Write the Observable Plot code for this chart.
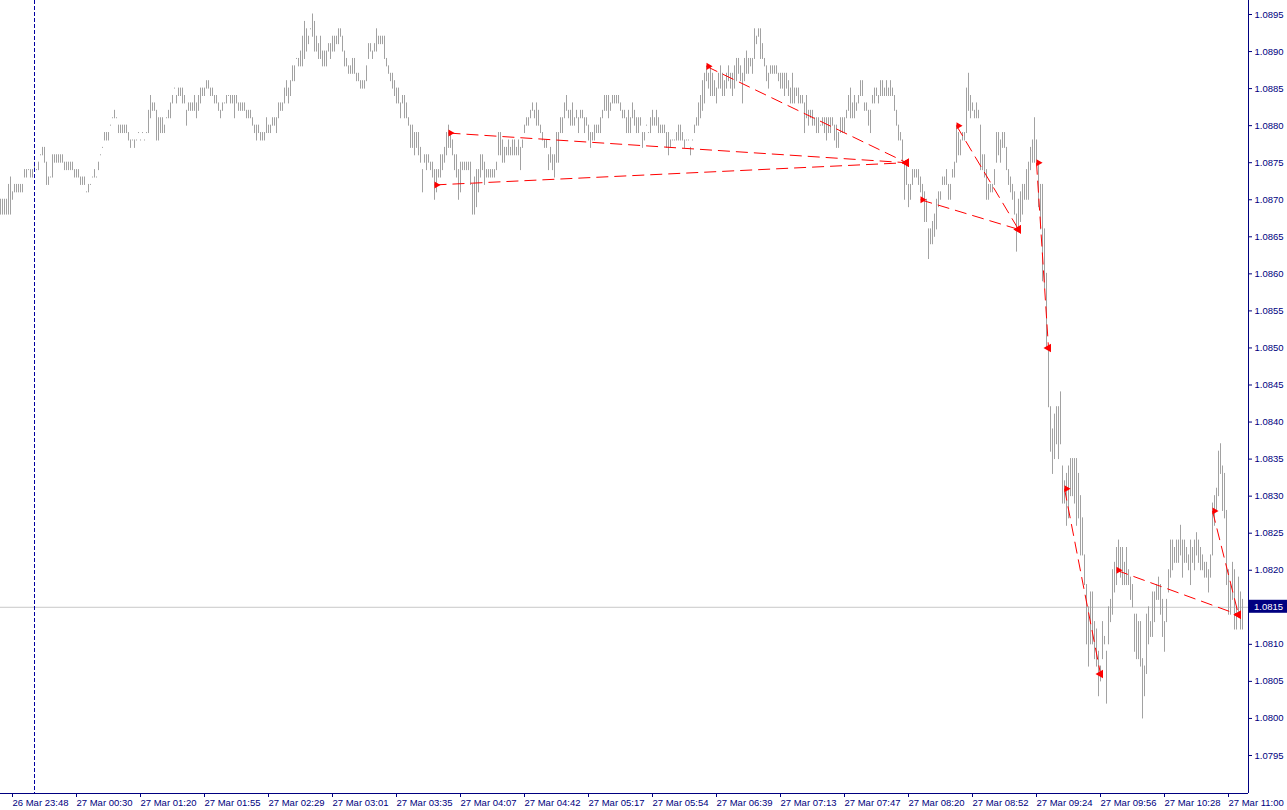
<!DOCTYPE html>
<html><head><meta charset="utf-8">
<script src="https://cdn.jsdelivr.net/npm/d3@7"></script>
<script src="https://cdn.jsdelivr.net/npm/@observablehq/plot@0.6"></script>
<style>html,body{margin:0;padding:0;background:#fff;} #chart svg{display:block}</style>
</head><body><div id="chart"></div>
<script>
// Prices expressed in pips above 1.0800 (1 pip = 0.0001)
const basePrice = 1.0800;
const pipSize = 0.0001;
const barLowPips = [
68,68,68,68,68,68,70,71,71,71, 71,71,73,73,74,73,73,74,74,74,
76,76,75,72,72,73,73,75,75,75, 75,75,74,74,74,74,74,73,73,73,
72,72,72,71,71,72,73,73,73,74, 76,77,78,78,78,80,81,81,81,79,
79,79,79,79,78,77,78,77,78,79, 78,79,78,79,79,81,82,82,78,78,
79,79,79,81,81,81,83,85,83,84, 84,83,83,80,82,82,82,82,81,82,
83,84,84,85,85,84,84,83,83,82, 81,82,83,83,84,83,83,81,83,82,
82,82,82,81,81,81,80,79,78,79, 78,78,78,79,79,79,80,80,79,81,
82,82,83,84,83,84,86,86,89,88, 88,88,89,90,91,93,92,90,90,89,
89,88,88,88,90,89,90,90,91,91, 92,90,88,88,87,87,87,87,86,86,
85,85,85,86,89,90,89,90,90,91, 91,91,89,88,87,86,85,84,83,83,
81,83,81,81,80,77,77,76,77,76, 75,71,75,74,75,74,73,70,71,73,
73,74,75,76,77,77,76,74,73,70, 71,74,74,74,74,72,68,68,69,71,
73,74,72,73,73,73,73,73,74,76, 76,75,75,76,76,76,76,76,76,76,
74,77,79,80,80,81,82,81,80,80, 79,78,77,77,74,75,74,73,75,75,
79,79,81,82,81,80,80,80,81,79, 81,81,79,80,78,77,78,78,79,79,
79,81,82,82,81,82,83,83,83,83, 82,81,81,79,79,79,81,80,79,79,
80,77,78,80,79,79,80,80,80,79, 79,79,79,77,76,77,78,78,78,78,
78,78,77,78,78,76,78,79,80,80, 81,82,83,86,85,84,84,84,83,85,
85,84,84,85,86,85,84,85,86,87, 86,83,86,87,87,88,87,89,91,92,
89,89,88,86,85,87,87,87,87,86, 85,85,84,85,84,83,83,83,84,83,
83,83,79,81,80,81,80,80,79,79, 80,80,79,78,79,79,80,78,77,77,
79,79,79,81,82,81,81,81,82,83, 84,84,82,82,80,79,83,83,84,83,
84,84,84,84,84,84,84,82,80,78, 78,75,70,72,69,70,72,73,73,72,
71,70,67,67,62,64,64,65,66,69, 70,72,72,72,70,70,73,73,75,76,
76,78,78,79,82,81,82,81,81,81, 74,74,73,70,70,71,71,72,75,76,
75,77,77,74,72,71,70,68,63,66, 67,68,70,70,70,74,75,75,75,69,
66,59,58,50,42,36,33,35,37,35, 37,29,29,26,27,30,30,29,26,27,
22,22,18,10,7,10,10,8,7,3, 5,8,10,2,10,13,14,17,18,20,
19,18,18,18,18,16,15,9,8,8, 7,0,3,6,10,11,11,13,16,16,
14,11,9,13,17,19,20,21,21,21, 22,19,21,21,20,18,21,20,22,21,
20,20,19,19,17,19,22,26,28,30, 33,28,27,18,14,14,16,12,12,14,
12,12];
const barHighPips = [
70,70,70,70,72,73,71,72,72,72, 72,72,74,74,74,74,74,75,74,75,
76,77,77,75,73,73,76,76,76,76, 76,76,75,75,75,75,75,74,74,74,
73,73,73,71,72,72,73,74,73,75, 76,77,79,79,79,80,81,82,81,80,
80,80,80,80,79,78,78,78,78,79, 78,79,78,79,82,84,83,83,82,81,
81,81,80,81,82,83,84,85,84,85, 85,85,84,82,83,83,83,84,83,84,
85,85,85,86,86,85,85,84,84,83, 82,83,83,84,84,84,84,84,84,83,
83,83,83,82,82,82,81,80,80,80, 79,79,79,81,80,80,81,81,81,83,
83,83,85,86,85,86,88,88,89,89, 90,92,94,93,92,93,95,94,92,91,
92,90,90,90,91,91,92,92,92,93, 93,92,90,89,88,88,89,89,87,87,
86,86,86,88,91,91,90,91,93,92, 92,92,92,89,88,87,87,86,85,85,
83,84,84,83,81,80,80,79,79,79, 77,74,76,76,76,75,75,74,74,74,
76,76,77,79,80,79,78,76,76,74, 75,75,75,75,75,75,72,73,74,74,
76,76,75,74,74,74,74,74,75,79, 79,78,77,77,78,77,78,78,77,78,
77,78,80,81,81,82,83,82,83,82, 80,79,78,78,76,77,76,76,79,79,
81,81,83,84,82,82,83,81,82,81, 82,82,81,81,80,79,79,80,80,80,
81,82,84,84,84,83,84,84,84,84, 83,82,82,81,82,81,83,82,81,81,
81,79,79,80,79,81,82,81,82,81, 80,80,80,79,79,78,78,78,79,80,
80,79,78,78,78,77,78,80,81,83, 84,86,87,88,87,88,87,86,85,87,
88,87,86,87,88,87,87,88,89,89, 88,87,89,90,89,89,89,93,92,93,
93,91,89,88,87,88,88,88,88,87, 87,87,87,87,86,85,87,85,85,85,
84,84,83,84,82,82,82,81,81,81, 80,81,81,81,81,81,81,80,80,79,
81,81,81,82,84,85,83,84,83,84, 86,86,83,83,82,82,84,85,85,84,
86,86,85,86,85,86,85,84,82,80, 79,78,75,75,72,72,74,74,74,74,
73,72,71,70,66,66,67,68,70,71, 71,73,73,74,72,72,74,75,80,79,
78,79,79,85,87,84,83,82,83,82, 80,76,76,74,72,72,72,74,79,79,
78,79,79,77,74,73,72,71,68,70, 71,72,72,74,75,77,78,81,78,75,
72,72,66,60,50,42,39,41,42,42, 44,34,32,33,34,35,35,35,35,33,
30,27,22,18,15,17,17,13,12,9, 7,13,11,9,15,16,20,21,23,24,
23,23,21,23,20,19,18,14,14,13, 13,8,7,14,15,13,17,17,18,19,
18,16,13,16,20,24,24,23,24,24, 26,24,24,23,22,24,23,24,25,24,
23,22,21,21,20,22,29,30,31,36, 37,34,33,28,20,18,21,20,15,19,
17,16];

const priceTicks = [1.0795,1.0800,1.0805,1.0810,1.0815,1.0820,1.0825,1.0830,1.0835,1.0840,1.0845,1.0850,1.0855,1.0860,1.0865,1.0870,1.0875,1.0880,1.0885,1.0890,1.0895];
const timeTickBars = [6,38,70,102,134,166,198,230,262,294,326,358,390,422,454,486,518,550,582,614];
const timeTickLabels = ["26 Mar 23:48","27 Mar 00:30","27 Mar 01:20","27 Mar 01:55","27 Mar 02:29","27 Mar 03:01","27 Mar 03:35","27 Mar 04:07","27 Mar 04:42","27 Mar 05:17","27 Mar 05:54","27 Mar 06:39","27 Mar 07:13","27 Mar 07:47","27 Mar 08:20","27 Mar 08:52","27 Mar 09:24","27 Mar 09:56","27 Mar 10:28","27 Mar 11:00"];

const tradeOpenBar = [224,217,353,460,478,518,532,558,606];
const tradeOpenPrice = [1.0879,1.0872,1.0888,1.0870,1.0880,1.0875,1.0831,1.0820,1.0828];
const tradeCloseBar = [453,453,453,509,509,524,550,619,619];
const tradeClosePrice = [1.0875,1.0875,1.0875,1.0866,1.0866,1.0850,1.0806,1.0814,1.0814];

const bidPrice = 1.0815;
const separatorBar = 17;

const bars = barLowPips.map((lo, i) => ({i, low: basePrice + lo * pipSize, high: basePrice + barHighPips[i] * pipSize}));
const trades = tradeOpenBar.map((ob, k) => ({ob, op: tradeOpenPrice[k], cb: tradeCloseBar[k], cp: tradeClosePrice[k]}));

const navy = "#000080";
const font = "Liberation Sans, Arial, sans-serif";
const yDomain = [1.078987, 1.089689];
const xDomain = [0, 624];
const fmt = d3.format(".4f");

const svg = Plot.plot({
  width: 1287, height: 810,
  marginLeft: 0, marginRight: 39, marginTop: 0, marginBottom: 17,
  style: {fontFamily: font, fontSize: "9.5px", background: "#fff"},
  x: {type: "linear", domain: xDomain, axis: null},
  y: {type: "linear", domain: yDomain, axis: null},
  marks: [
    Plot.ruleY([bidPrice], {stroke: "#c8c8c8"}),
    Plot.ruleX(bars, {x: "i", y1: "low", y2: "high", stroke: "#a2a2a2", strokeWidth: 1, strokeLinecap: "square"}),
    Plot.ruleX([separatorBar], {stroke: "#0000a0", strokeDasharray: "4,2"}),
    Plot.link(trades, {x1: "ob", y1: "op", x2: "cb", y2: "cp", stroke: "#ff0000", strokeWidth: 1, strokeDasharray: "12,6"}),
    Plot.dot(trades, {x: "ob", y: "op", symbol: "plus", r: 2.8, fill: "#ff0000"}),
    Plot.dot(trades, {x: "ob", y: "op", symbol: "triangle", rotate: 90, r: 2.6, dx: 2, fill: "#ff0000"}),
    Plot.dot(trades, {x: "cb", y: "cp", symbol: "triangle", rotate: -90, r: 3.2, fill: "#ff0000"}),
    Plot.ruleX([xDomain[1]], {stroke: navy}),
    Plot.ruleY([yDomain[0]], {stroke: navy}),
    Plot.axisY(priceTicks, {anchor: "right", tickFormat: d => d === bidPrice ? "" : fmt(d), tickSize: 3, tickPadding: 3, color: navy, fontSize: 9.5, fontFamily: font, label: null}),
    Plot.axisX(timeTickBars, {anchor: "bottom", tickFormat: d => timeTickLabels[timeTickBars.indexOf(d)], tickSize: 4, tickPadding: 2, textAnchor: "start", color: navy, fontSize: 9.5, fontFamily: font, label: null})
  ]
});

const yb = svg.scale("y").apply(bidPrice);
const g = d3.select(svg).append("g");
g.append("rect").attr("x", 1249).attr("y", yb - 7).attr("width", 38).attr("height", 13).attr("fill", navy);
g.append("text").attr("x", 1254).attr("y", yb).attr("dy", "0.32em").attr("fill", "#fff")
  .attr("text-anchor", "start")
  .style("font-family", font).style("font-size", "9.5px").text(fmt(bidPrice));

document.getElementById("chart").appendChild(svg);
</script>
</body></html>
